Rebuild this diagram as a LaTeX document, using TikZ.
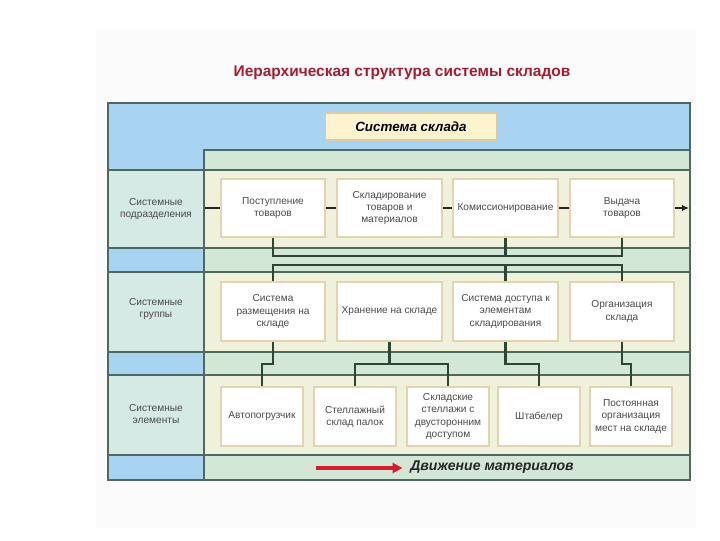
\documentclass[tikz,border=0pt]{standalone}
\usepackage{fontspec}
\setmainfont{Liberation Sans}
\usepackage{tikz}
\usetikzlibrary{calc,arrows.meta}
\definecolor{frameblue}{HTML}{A8D3F1}
\definecolor{colpale}{HTML}{D5E9E5}
\definecolor{bandgreen}{HTML}{D3E7D6}
\definecolor{rowyellow}{HTML}{EFF1DA}
\definecolor{ruleline}{HTML}{4E6A5E}
\definecolor{linkdark}{HTML}{2E4536}
\definecolor{boxedge}{HTML}{E3D3B0}
\definecolor{headfill}{HTML}{FDF4CF}
\definecolor{headedge}{HTML}{D9CBA5}
\definecolor{titlered}{HTML}{A61C30}
\definecolor{labelgray}{HTML}{4A4A4A}
\definecolor{movered}{HTML}{D41E2C}
\tikzset{
% Node styles: the units of the three levels, the side labels and the head
unit node/.style={draw=boxedge,fill=white,line width=1.4pt,align=center,
  text=labelgray,font=\fontsize{7.2}{8.6}\selectfont,inner sep=1pt},
wide unit/.style={unit node,minimum width=2.62cm,minimum height=1.47cm},
narrow unit/.style={unit node,minimum width=2.07cm,minimum height=1.46cm},
side label/.style={align=center,text=labelgray,font=\fontsize{7.2}{8.6}\selectfont},
head node/.style={draw=headedge,fill=headfill,line width=1pt,minimum width=4.28cm,
  minimum height=0.68cm,font=\fontsize{9.5}{11}\selectfont\bfseries\itshape},
rule line/.style={draw=ruleline,line width=1.3pt},
link/.style={draw=linkdark,line width=1.8pt},
flow/.style={draw=black!85,line width=0.8pt}
}

\begin{document}
\begin{tikzpicture}[x=0.025cm,y=-0.025cm]
      \useasboundingbox (0,0) rectangle (720,540);
      % faint sheet and the coloured frame
      \fill[black!1.5] (96,30) rectangle (696,528);
      \fill[frameblue] (108,103) rectangle (690,480);
      \fill[bandgreen] (204,150) rectangle (690,480);
      \foreach \top/\bot in {170/248,272/352,375/455}{
        \fill[colpale] (108,\top) rectangle (204,\bot);
        \fill[rowyellow] (204,\top) rectangle (690,\bot);
      }
      \foreach \y in {170,248,272,352,375,455}
        \draw[rule line] (108,\y) -- (690,\y);
      \draw[rule line] (204,480) -- (204,150) -- (690,150);
      \draw[rule line] (108,103) rectangle (690,480);
      % Title
      \node(title)[font=\fontsize{11}{13}\selectfont\bfseries,text=titlered]
        at (402,73) {Иерархическая структура системы складов};
      \node(system)[head node] at (411,126.5) {Система склада};
      % Side labels
      \node(lab1)[side label] at (156,209) {Системные\\подразделения};
      \node(lab2)[side label] at (156,309) {Системные\\группы};
      \node(lab3)[side label] at (156,414) {Системные\\элементы};
      % Level 1: subdivisions
      \node(s1)[wide unit] at (273,208) {Поступление\\товаров};
      \node(s2)[wide unit] at (389.5,208) {Складирование\\товаров и\\материалов};
      \node(s3)[wide unit] at (505.5,208) {Комиссионирование};
      \node(s4)[wide unit] at (622,208) {Выдача\\товаров};
      % Level 2: groups
      \node(g1)[wide unit] at (273,311.5) {Система\\размещения на\\складе};
      \node(g2)[wide unit] at (389.5,311.5) {Хранение на складе};
      \node(g3)[wide unit] at (505.5,311.5) {Система доступа к\\элементам\\складирования};
      \node(g4)[wide unit] at (622,311.5) {Организация\\склада};
      % Level 3: elements
      \node(e1)[narrow unit] at (262,416.5) {Автопогрузчик};
      \node(e2)[narrow unit] at (355,416.5) {Стеллажный\\склад палок};
      \node(e3)[narrow unit] at (448,416.5) {Складские\\стеллажи с\\двусторонним\\доступом};
      \node(e4)[narrow unit] at (539,416.5) {Штабелер};
      \node(e5)[narrow unit] at (631,416.5) {Постоянная\\организация\\мест на складе};
      % flow through the subdivisions
      \coordinate (flow in) at (205,208);
      \coordinate (flow out) at (689,208);
      \draw[flow] (flow in) -- (s1) (s1) -- (s2) (s2) -- (s3) (s3) -- (s4);
      \draw[flow,-{Latex[length=5pt,width=4.5pt]}] (s4) -- (flow out);
      % level 1 to level 2
      \coordinate (bar up) at (0,256);
      \coordinate (bar down) at (0,265);
      \draw[link] (s1.south) -- (s1.south |- bar up) -- (s4.south |- bar up) -- (s4.south);
      \draw[link] (s3.south) -- (s3.south |- bar up);
      \draw[link] (g1.north) -- (g1.north |- bar down) -- (g4.north |- bar down) -- (g4.north);
      \draw[link] (g3.north) -- (g3.north |- bar down);
      % level 2 to level 3
      \coordinate (jog) at (0,364);
      \draw[link] (g1.south) -- (g1.south |- jog) -| (e1.north);
      \draw[link] (g2.south) -- (g2.south |- jog);
      \draw[link] (e2.north) |- (e3.north |- jog) -- (e3.north);
      \draw[link] (g3.south) -- (g3.south |- jog) -| (e4.north);
      \draw[link] (g4.south) -- (g4.south |- jog) -| (e5.north);
      % material movement
      \node(move)[font=\fontsize{10}{12}\selectfont\bfseries\itshape,text=black!85]
        at (492,467) {Движение материалов};
      \coordinate (move start) at (316,468);
      \draw[movered,line width=2.2pt,-{Triangle[length=7pt,width=7pt]},shorten >=2pt]
        (move start) -- (move.west |- move start);
    \end{tikzpicture}
\end{document}
